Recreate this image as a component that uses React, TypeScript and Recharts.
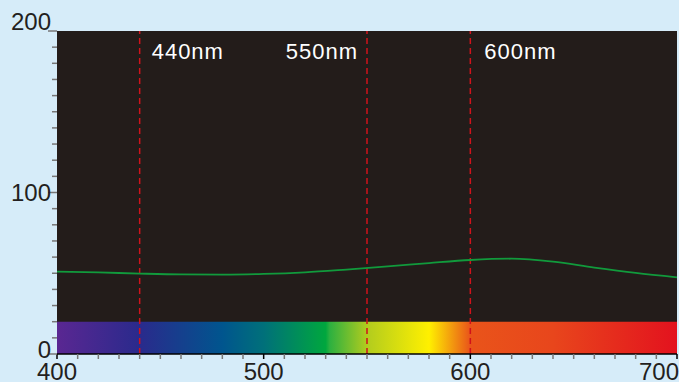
import React from 'react'
import { ComposedChart, Line, XAxis, YAxis, CartesianGrid, ReferenceLine, ReferenceArea } from 'recharts'

// wavelength (nm) and measured intensity
const wavelengths = [400, 420, 440, 460, 480, 500, 520, 540, 560, 580, 600, 620, 640, 660, 680, 700]
const intensity = [51, 50.5, 49.8, 49.3, 49.2, 49.6, 50.6, 52.3, 54.2, 56.3, 58.2, 59.0, 57.2, 53.5, 50.2, 47.5]

const markers = [440, 550, 600]
const markerLabels = ['440nm', '550nm', '600nm']
const markerDx = [12, -9, 14]

const xTicks = [400, 410, 420, 430, 440, 450, 460, 470, 480, 490, 500, 510, 520, 530, 540, 550, 560, 570, 580, 590, 600, 610, 620, 630, 640, 650, 660, 670, 680, 690, 700]
const yTicks = [0, 10, 20, 30, 40, 50, 60, 70, 80, 90, 100, 110, 120, 130, 140, 150, 160, 170, 180, 190, 200]

// visible spectrum strip
const spectrumNm = [400, 440, 480, 500, 530, 532, 550, 580, 600, 640, 700]
const spectrumColors = ['#5a2792', '#2a2a8c', '#00558e', '#00707a', '#00a73e', '#2db040', '#b2cc1e', '#fff000', '#e9541a', '#e8461c', '#e3121e']

const data = wavelengths.map((nm, i) => ({ nm, value: intensity[i] }))

const labelFont = 'Liberation Sans, Arial, sans-serif'

function XTick({ x, y, payload }: any) {
  const major = payload.value % 100 === 0
  const isLast = payload.value === 700
  return (
    <g>
      <line x1={x} x2={x} y1={y} y2={y + 5} stroke={major ? '#000' : '#777'} strokeWidth={1.5} />
      {major && (
        <text x={isLast ? 679 : x} y={y + 26} textAnchor={isLast ? 'end' : 'middle'} fontSize={24} fill="#231f20" fontFamily={labelFont}>
          {payload.value}
        </text>
      )}
    </g>
  )
}

function YTick({ x, y, payload }: any) {
  const major = payload.value % 100 === 0
  const dy = payload.value === 200 ? -9 : payload.value === 0 ? -4 : 0
  return (
    <g>
      <line x1={major ? x - 9 : x - 5} x2={x} y1={y} y2={y} stroke="#777" strokeWidth={1.5} />
      {major && (
        <text x={x - 6} y={y + dy + 8} textAnchor="end" fontSize={24} fill="#231f20" fontFamily={labelFont}>
          {payload.value}
        </text>
      )}
    </g>
  )
}

export default function App() {
  return (
    <div style={{ position: 'fixed', top: 0, left: 0, width: 679, height: 382, background: '#d6ecf9' }}>
      <svg width={0} height={0} style={{ position: 'absolute' }}>
        <defs>
          <linearGradient id="spectrum" x1="0" x2="1" y1="0" y2="0">
            {spectrumNm.map((nm, i) => (
              <stop key={nm} offset={(nm - 400) / 300} stopColor={spectrumColors[i]} />
            ))}
          </linearGradient>
        </defs>
      </svg>
      <ComposedChart width={679} height={382} data={data} margin={{ top: 31, right: 2, left: 0, bottom: 0 }}>
        <CartesianGrid horizontal={false} vertical={false} fill="#231c1a" />
        <XAxis
          dataKey="nm"
          type="number"
          domain={[400, 700]}
          ticks={xTicks}
          interval={0}
          height={28}
          tick={<XTick />}
          tickLine={false}
          tickSize={0}
          tickMargin={0}
          axisLine={{ stroke: '#000', strokeWidth: 1.5 }}
        />
        <YAxis
          type="number"
          domain={[0, 200]}
          ticks={yTicks}
          interval={0}
          width={57}
          tick={<YTick />}
          tickLine={false}
          tickSize={0}
          tickMargin={0}
          axisLine={false}
        />
        <ReferenceArea x1={400} x2={700} y1={0} y2={20} fill="url(#spectrum)" fillOpacity={1} stroke="none" />
        {markers.map((m, i) => (
          <ReferenceLine
            key={m}
            x={m}
            stroke="#d0121b"
            strokeWidth={1.5}
            strokeDasharray="6 4"
            label={({ viewBox }: any) => (
              <text
                x={viewBox.x + markerDx[i]}
                y={viewBox.y + 28}
                textAnchor={markerDx[i] < 0 ? 'end' : 'start'}
                fontSize={22}
                letterSpacing={1}
                fill="#fff"
                fontFamily={labelFont}
              >
                {markerLabels[i]}
              </text>
            )}
          />
        ))}
        <Line type="monotone" dataKey="value" stroke="#119a3c" strokeWidth={1.8} dot={false} isAnimationActive={false} />
      </ComposedChart>
    </div>
  )
}
